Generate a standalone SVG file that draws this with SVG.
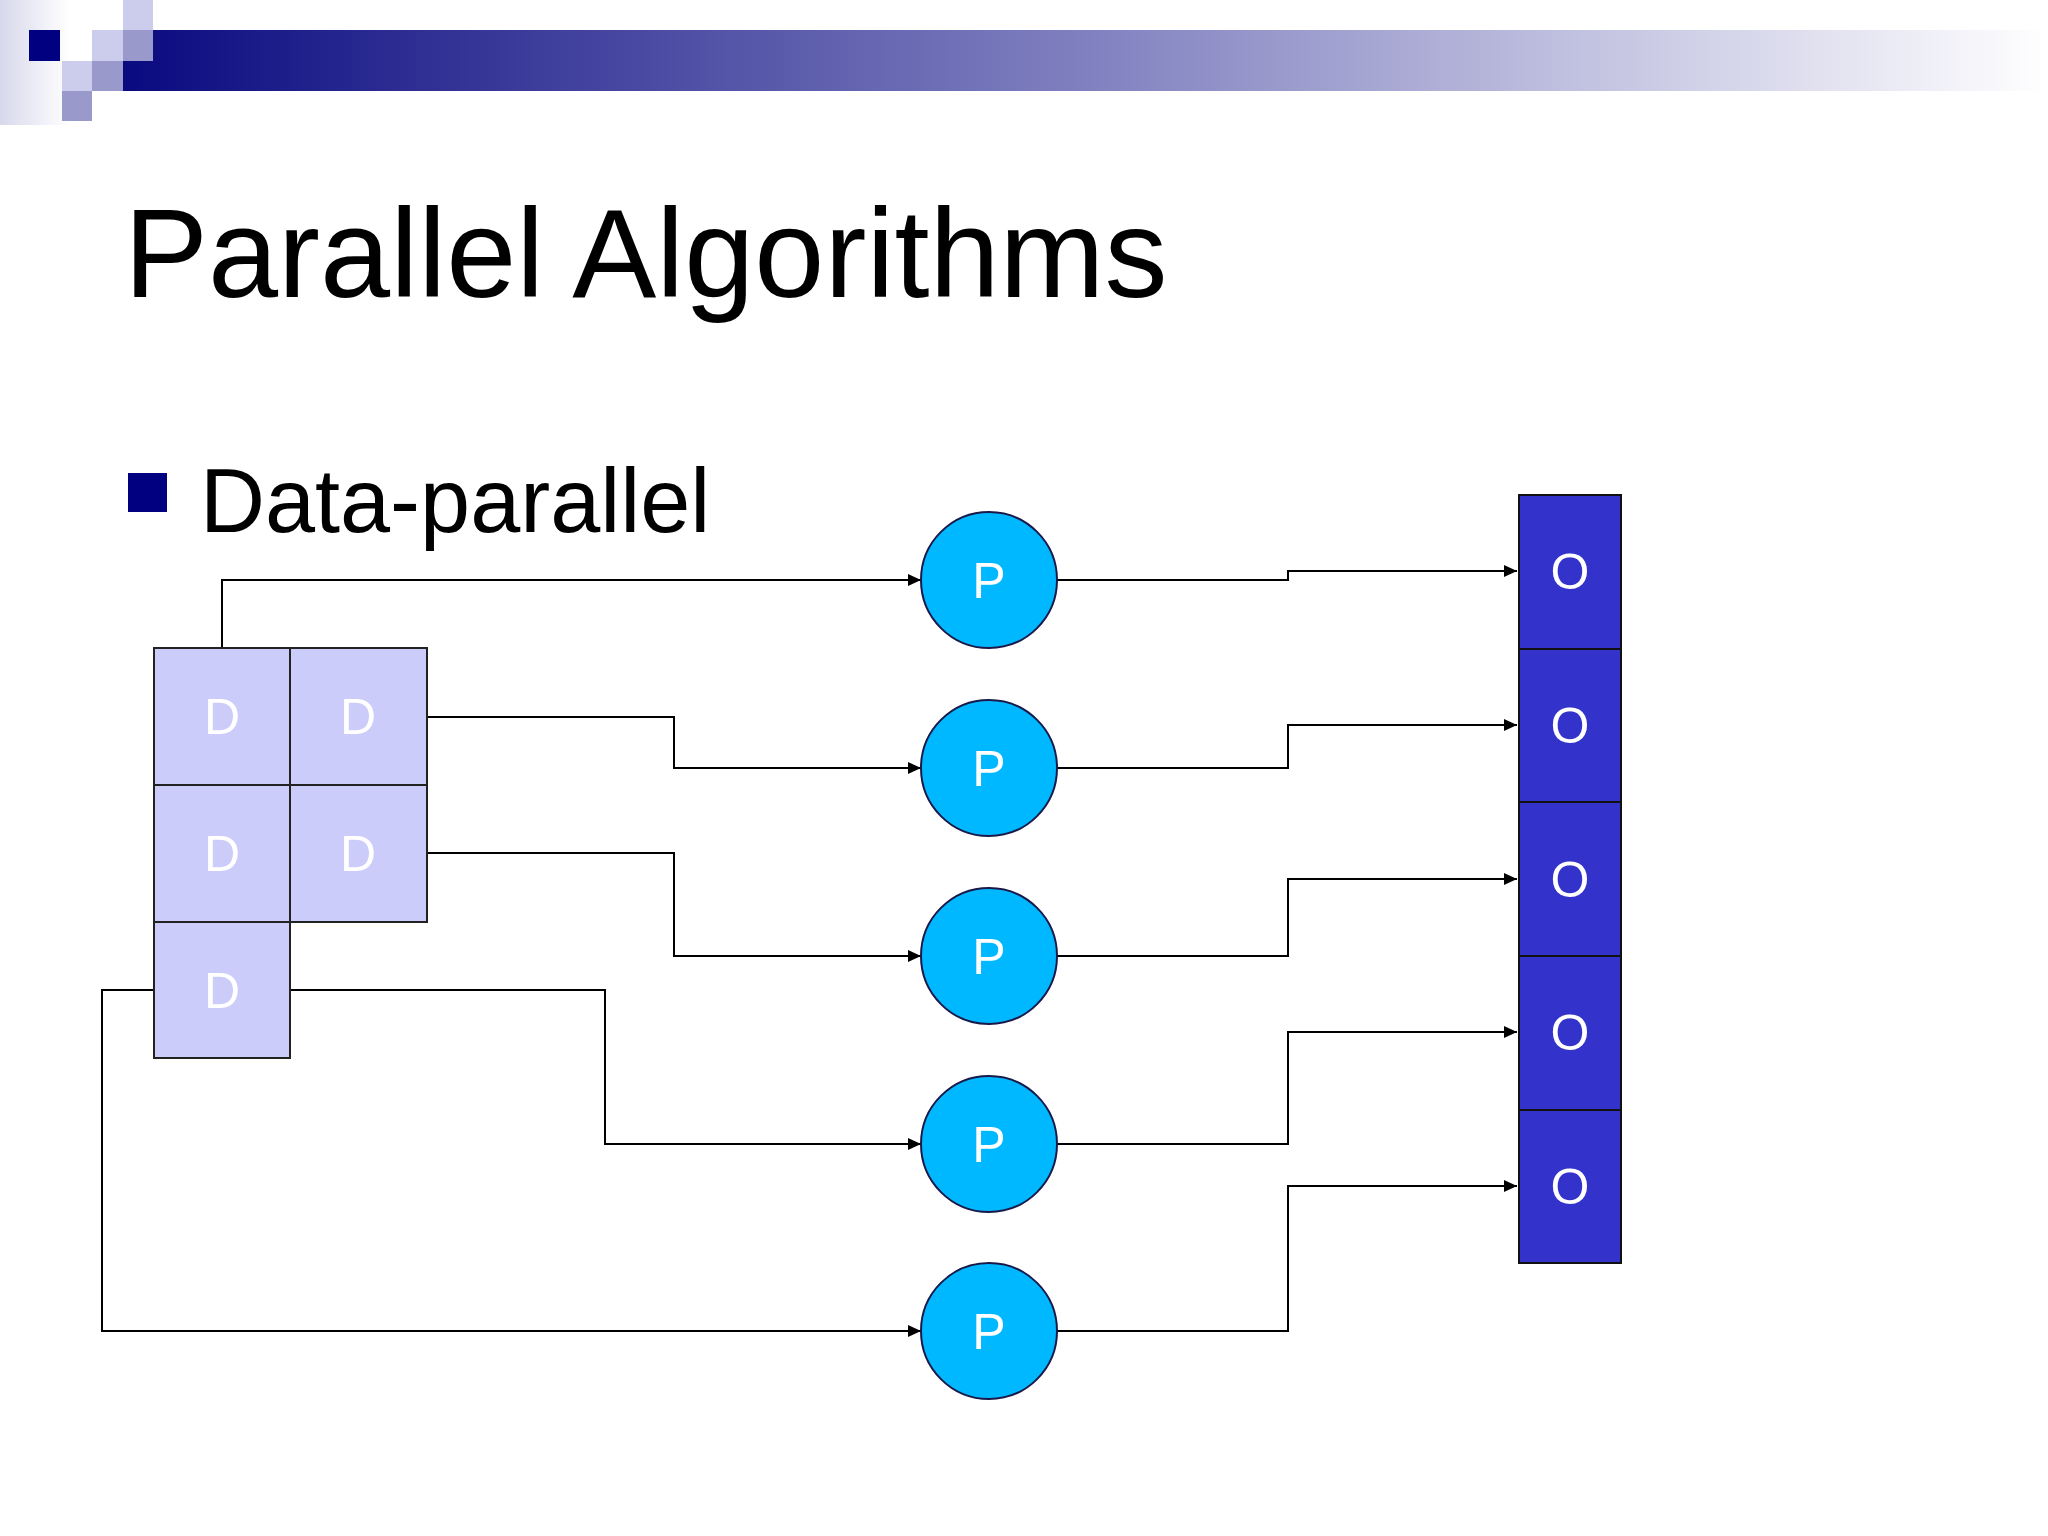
<svg xmlns="http://www.w3.org/2000/svg" width="2048" height="1536" viewBox="0 0 2048 1536">
<defs>
<linearGradient id="bar" x1="0" x2="1" y1="0" y2="0"><stop offset="0" stop-color="#0a0a80"/><stop offset="0.5" stop-color="#8080c0"/><stop offset="1" stop-color="#ffffff"/></linearGradient>
<linearGradient id="edge" x1="0" x2="1"><stop offset="0" stop-color="#d8d8ec"/><stop offset="1" stop-color="#ffffff"/></linearGradient>
<marker id="ar" markerWidth="13" markerHeight="12" refX="13" refY="6" orient="auto" markerUnits="userSpaceOnUse"><path d="M0,0 L13,6 L0,12 z" fill="#000"/></marker>
<style>
.d rect{fill:#ccccfa;stroke:#222;stroke-width:2}
.dt{fill:#fff;font-family:"Liberation Sans",Arial,sans-serif;font-size:50px;text-anchor:middle}
.p circle{fill:#00b8ff;stroke:#1a1a4a;stroke-width:2}
.o rect{fill:#3333cc;stroke:#111;stroke-width:2}
.c path{fill:none;stroke:#000;stroke-width:2;marker-end:url(#ar)}
</style>
</defs>
<rect width="2048" height="1536" fill="#fff"/>
<rect x="0" y="0" width="70" height="125" fill="url(#edge)"/>
<rect x="123" y="30" width="1925" height="61" fill="url(#bar)"/>
<rect x="29" y="30" width="31" height="31" fill="#000080"/>
<rect x="123" y="0" width="30" height="30" fill="#ccccec"/>
<rect x="92" y="30" width="31" height="31" fill="#ccccec"/>
<rect x="123" y="30" width="30" height="31" fill="#9999cc"/>
<rect x="62" y="61" width="30" height="30" fill="#ccccec"/>
<rect x="92" y="61" width="31" height="30" fill="#9999cc"/>
<rect x="62" y="91" width="30" height="30" fill="#9999cc"/>
<text x="124" y="297" font-family="Liberation Sans,Arial,sans-serif" font-size="126">Parallel Algorithms</text>
<rect x="128" y="473" width="39" height="39" fill="#000080"/>
<text x="200" y="532" font-family="Liberation Sans,Arial,sans-serif" font-size="90">Data-parallel</text>
<g class="c">
<path d="M222,648 V580 H921"/>
<path d="M427,717 H674 V768 H921"/>
<path d="M427,853 H674 V956 H921"/>
<path d="M290,990 H605 V1144 H921"/>
<path d="M154,990 H102 V1331 H921"/>
<path d="M1057,580 H1288 V571 H1517"/>
<path d="M1057,768 H1288 V725 H1517"/>
<path d="M1057,956 H1288 V879 H1517"/>
<path d="M1057,1144 H1288 V1032 H1517"/>
<path d="M1057,1331 H1288 V1186 H1517"/>
</g>
<g class="d">
<g id="d1"><rect x="154" y="648" width="136" height="137"/><text class="dt" x="222" y="734">D</text></g>
<g id="d2"><rect x="290" y="648" width="137" height="137"/><text class="dt" x="358" y="734">D</text></g>
<g id="d3"><rect x="154" y="785" width="136" height="137"/><text class="dt" x="222" y="871">D</text></g>
<g id="d4"><rect x="290" y="785" width="137" height="137"/><text class="dt" x="358" y="871">D</text></g>
<g id="d5"><rect x="154" y="922" width="136" height="136"/><text class="dt" x="222" y="1008">D</text></g>
</g>
<g class="p">
<g id="p1"><circle cx="989" cy="580" r="68"/><text class="dt" x="989" y="598">P</text></g>
<g id="p2"><circle cx="989" cy="768" r="68"/><text class="dt" x="989" y="786">P</text></g>
<g id="p3"><circle cx="989" cy="956" r="68"/><text class="dt" x="989" y="974">P</text></g>
<g id="p4"><circle cx="989" cy="1144" r="68"/><text class="dt" x="989" y="1162">P</text></g>
<g id="p5"><circle cx="989" cy="1331" r="68"/><text class="dt" x="989" y="1349">P</text></g>
</g>
<g class="o">
<g id="o1"><rect x="1519" y="495" width="102" height="154"/><text class="dt" x="1570" y="589">O</text></g>
<g id="o2"><rect x="1519" y="649" width="102" height="153"/><text class="dt" x="1570" y="743">O</text></g>
<g id="o3"><rect x="1519" y="802" width="102" height="154"/><text class="dt" x="1570" y="897">O</text></g>
<g id="o4"><rect x="1519" y="956" width="102" height="154"/><text class="dt" x="1570" y="1050">O</text></g>
<g id="o5"><rect x="1519" y="1110" width="102" height="153"/><text class="dt" x="1570" y="1204">O</text></g>
</g>
</svg>
